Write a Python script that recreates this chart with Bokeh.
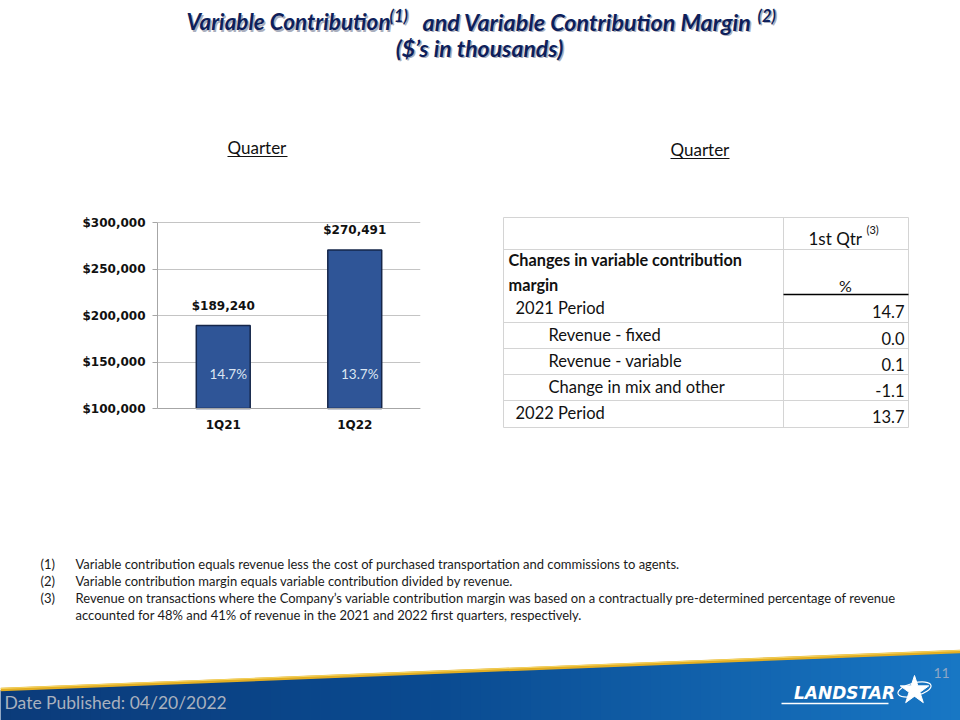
from bokeh.plotting import figure
from bokeh.models import Range1d, FactorRange, FixedTicker, NumeralTickFormatter
from bokeh.layouts import column, row
from bokeh.embed import file_html
from bokeh.resources import INLINE
from bokeh.core.properties import value

# ---------------- data ----------------
quarters = ["1Q21", "1Q22"]
contribution = [189240, 270491]          # $ thousands
margin_pct = [14.7, 13.7]                # %
y_ticks = [100000, 150000, 200000, 250000, 300000]

table_col_header = "1st Qtr"
table_title = ["Changes in variable contribution", "margin"]
row_labels = ["2021 Period", "Revenue - fixed", "Revenue - variable",
              "Change in mix and other", "2022 Period"]
row_values = [14.7, 0.0, 0.1, -1.1, 13.7]
row_indent = [0, 1, 1, 1, 0]

footnote_nums = ["(1)", "(2)", "(3)", ""]
footnote_text = [
    "Variable contribution equals revenue less the cost of purchased transportation and commissions to agents.",
    "Variable contribution margin equals variable contribution divided by revenue.",
    "Revenue on transactions where the Company\u2019s variable contribution margin was based on a contractually pre-determined percentage of revenue",
    "accounted for 48% and 41% of revenue in the 2021 and 2022 first quarters, respectively.",
]

FONT = "Lato"
PAGE_H = 720

# middle row geometry (screen px)
ROW_TOP, ROW_H = 200, 260
BORDER_TOP, BORDER_BOTTOM = 12, 28
FRAME_TOP = ROW_TOP + BORDER_TOP            # 212
FRAME_BOT = ROW_TOP + ROW_H - BORDER_BOTTOM  # 432
AX_TOP, AX_BOT = 222, 408                    # where y_ticks[-1] / y_ticks[0] sit


def pix_fig(x0, sy0, w, h, bt=0, bb=0):
    p = figure(width=w, height=h,
               x_range=Range1d(x0, x0 + w),
               y_range=Range1d(PAGE_H - (sy0 + h - bb), PAGE_H - (sy0 + bt)),
               output_backend="svg", toolbar_location=None,
               x_axis_type=None, y_axis_type=None, min_border=0,
               min_border_top=bt, min_border_bottom=bb,
               outline_line_color=None)
    p.grid.visible = False
    return p


def txt(p, x, sy, s, size, color="#000000", font=FONT, style="normal",
        align="left", baseline="middle"):
    p.text(x=[x], y=[PAGE_H - sy], text=[s], text_font=value(font),
           text_font_size=f"{size}px", text_font_style=style,
           text_color=color, text_align=align, text_baseline=baseline)


# ---------------- top: title ----------------
top = pix_fig(0, 0, 960, ROW_TOP)
navy = "#0E1F5B"
shadow = "#A9AEBD"
parts = [
    (186, 21, "Variable Contribution", 22.5),
    (389, 15, "(1)", 16.5),
    (422, 21, "and Variable Contribution Margin", 23.3),
    (757, 15, "(2)", 16.5),
]
for col, dx in ((shadow, 1.5), (navy, 0)):
    for x, sy, s, fs in parts:
        txt(top, x + dx, sy + dx, s, fs, color=col, style="bold italic")
    txt(top, 479 + dx, 47 + dx, "($\u2019s in thousands)", 23, color=col,
        style="bold italic", align="center")

txt(top, 227, 147, "Quarter", 17, color="#111111")
top.line(x=[227, 287], y=[PAGE_H - 156, PAGE_H - 156], line_color="#111111", line_width=1)
txt(top, 670, 149, "Quarter", 17, color="#111111")
top.line(x=[670, 729], y=[PAGE_H - 158, PAGE_H - 158], line_color="#111111", line_width=1)

# ---------------- middle left: bar chart ----------------
per_px = (y_ticks[-1] - y_ticks[0]) / (AX_BOT - AX_TOP)
y_start = y_ticks[0] - (FRAME_BOT - AX_BOT) * per_px
y_end = y_ticks[-1] + (AX_TOP - FRAME_TOP) * per_px

c = figure(width=460, height=ROW_H,
           x_range=FactorRange(*quarters),
           y_range=Range1d(y_start, y_end),
           output_backend="svg", toolbar_location=None,
           min_border_left=157, min_border_right=40,
           min_border_top=BORDER_TOP, min_border_bottom=BORDER_BOTTOM,
           outline_line_color=None)
c.vbar(x=quarters, top=contribution, bottom=y_ticks[0], width=0.41,
       fill_color="#2F5597", line_color="#15264A", line_width=1.5)
c.text(x=quarters, y=contribution, text=[f"${v:,}" for v in contribution],
       text_align="center", text_baseline="bottom", y_offset=-13,
       text_font=value("DejaVu Sans"), text_font_style="bold",
       text_font_size="12px", text_color="#111111")
c.text(x=quarters, y=[y_ticks[0]] * len(quarters),
       text=[f"{m:.1f}%" for m in margin_pct],
       text_align="center", text_baseline="middle", x_offset=5, y_offset=-35,
       text_font=value(FONT), text_font_size="13.5px", text_color="#DCE6F2")

c.yaxis.ticker = FixedTicker(ticks=y_ticks)
c.yaxis.formatter = NumeralTickFormatter(format="$0,0")
c.yaxis.bounds = (y_ticks[0], y_ticks[-1])
c.xaxis.fixed_location = y_ticks[0]
for ax in (c.xaxis, c.yaxis):
    ax.axis_line_color = "#A6A6A6"
    ax.major_tick_line_color = "#A6A6A6"
    ax.minor_tick_line_color = None
    ax.major_tick_in = 0
    ax.major_label_text_font = "DejaVu Sans"
    ax.major_label_text_font_style = "bold"
    ax.major_label_text_font_size = "12px"
    ax.major_label_text_color = "#111111"
c.yaxis.major_tick_out = 5
c.yaxis.major_label_standoff = 7
c.xaxis.major_tick_line_color = None
c.xaxis.major_tick_out = 0
c.xaxis.major_label_standoff = 9
c.xgrid.visible = False
c.ygrid.grid_line_color = "#C4C4C4"

# ---------------- middle right: table ----------------
t = pix_fig(460, ROW_TOP, 500, ROW_H, bt=BORDER_TOP, bb=BORDER_BOTTOM)
L, R, T, B, D = 503, 908, 217, 427, 783
grid = "#D4D4D4"
t.quad(left=[L], right=[R], top=[PAGE_H - T], bottom=[PAGE_H - B],
       fill_color=None, line_color=grid, line_width=1)
t.line(x=[D, D], y=[PAGE_H - T, PAGE_H - B], line_color=grid)
hlines = [249, 322, 348, 374, 400]
t.multi_line(xs=[[L, R]] * len(hlines), ys=[[PAGE_H - s, PAGE_H - s] for s in hlines],
             line_color=grid, line_width=1)
t.line(x=[D, R], y=[PAGE_H - 294, PAGE_H - 294], line_color="#000000", line_width=1.5)

txt(t, 808, 238, table_col_header, 17, color="#111111")
txt(t, 866, 229, "(3)", 11, color="#111111")
txt(t, 508, 259, table_title[0], 16.3, style="bold", color="#111111")
txt(t, 508, 284, table_title[1], 16.3, style="bold", color="#111111")
txt(t, 845, 285, "%", 16, color="#111111", align="center")
row_sy = [307, 334, 360, 386, 412]
for lab, v, ind, sy in zip(row_labels, row_values, row_indent, row_sy):
    txt(t, 515 + 33 * ind, sy, lab, 16.5, color="#111111")
    txt(t, 904, sy + 4, f"{v:.1f}", 16.5, color="#111111", align="right")

# ---------------- bottom: footnotes and footer ----------------
BOT_TOP = ROW_TOP + ROW_H
b = pix_fig(0, BOT_TOP, 960, PAGE_H - BOT_TOP)
for i, (n, s) in enumerate(zip(footnote_nums, footnote_text)):
    sy = 563 + 17 * i
    if n:
        txt(b, 40, sy, n, 13, color="#1A1A1A")
    txt(b, 75, sy, s, 13, color="#1A1A1A")


def band_top(x):
    return PAGE_H - (690 - 38 * x / 960)


def lerp(c1, c2, f):
    a = [int(c1[i:i + 2], 16) for i in (1, 3, 5)]
    z = [int(c2[i:i + 2], 16) for i in (1, 3, 5)]
    return "#" + "".join(f"{round(a[k] + (z[k] - a[k]) * f):02x}" for k in range(3))


stops = [(0.0, "#0B3B7A"), (0.45, "#0A4A90"), (1.0, "#1877C4")]
N = 96
xs, ys, cols = [], [], []
for i in range(N):
    x0 = i * 960 / N
    x1 = x0 + 960 / N + 0.6
    f = (i + 0.5) / N
    for (f0, c0), (f1, c1) in zip(stops[:-1], stops[1:]):
        if f0 <= f <= f1:
            col = lerp(c0, c1, (f - f0) / (f1 - f0))
    xs.append([x0, x1, x1, x0])
    ys.append([band_top(x0), band_top(x1), 0, 0])
    cols.append(col)
b.patches(xs=xs, ys=ys, fill_color=cols, line_color=cols, line_width=0.5)
b.line(x=[0, 960], y=[band_top(0) + 1, band_top(960) + 1], line_color="#E3AE22", line_width=3.5)
b.line(x=[0, 960], y=[band_top(0) + 2, band_top(960) + 2], line_color="#F6D766", line_width=1)

txt(b, 4, 702, "Date Published:  04/20/2022", 17.5, color="#A9B1BE")
txt(b, 941, 672, "11", 14, color="#8EA6C6", align="center")
txt(b, 844, 692, "LANDSTAR", 17, color="#FFFFFF", font="DejaVu Sans",
    style="bold italic", align="center")
b.line(x=[781, 888], y=[PAGE_H - 703, PAGE_H - 703], line_color="#FFFFFF", line_width=1.5)
b.scatter(x=[914], y=[PAGE_H - 690], marker="star", size=30,
          fill_color="#FFFFFF", line_color="#FFFFFF")
b.ellipse(x=[914], y=[PAGE_H - 689], width=34, height=13, angle=0.25,
          fill_color=None, line_color="#FFFFFF", line_width=1.2)

layout = column(top, row(c, t, spacing=0), b, spacing=0)
open("out.html", "w").write(file_html(layout, INLINE))
